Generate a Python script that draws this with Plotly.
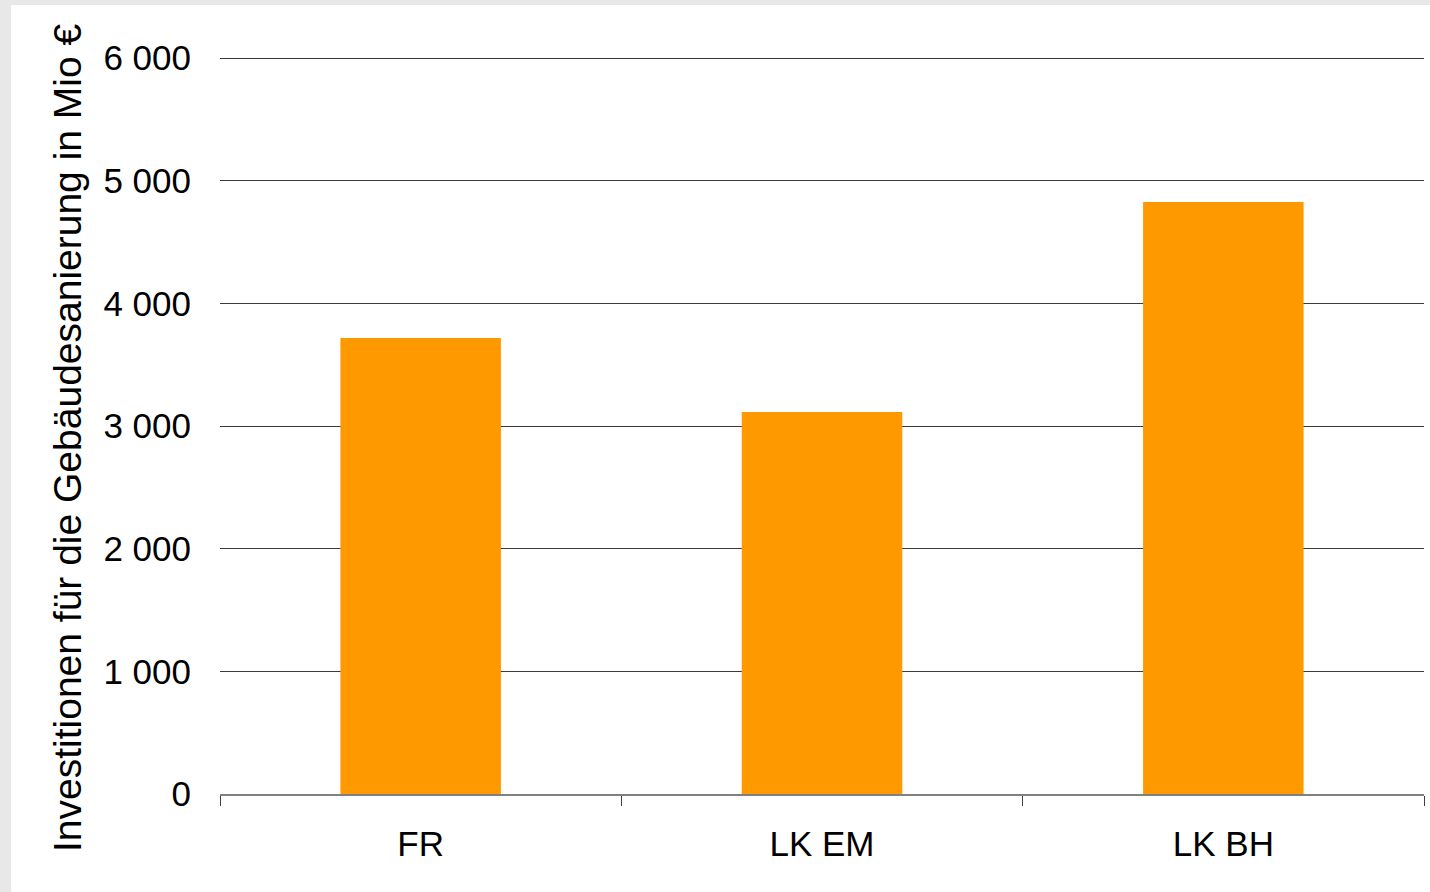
import plotly.graph_objects as go

categories = ["FR", "LK EM", "LK BH"]
values = [3717, 3114, 4826]
y_ticks = [0, 1000, 2000, 3000, 4000, 5000, 6000]
y_tick_labels = ["0", "1 000", "2 000", "3 000", "4 000", "5 000", "6 000"]
y_title = "Investitionen für die Gebäudesanierung in Mio €"

W, H = 1430, 892
L, R, T, B = 220, 6, 52, 98
pw, ph = W - L - R, H - T - B
y_top = 6000 * ph / 736.0

def px_x(px):
    return (px - L) / pw

def px_y(py):
    return (H - B - py) / ph

fig = go.Figure(go.Bar(x=categories, y=values, marker=dict(color="#FF9900", line=dict(width=0)),
                       width=0.4))

fig.update_layout(
    width=W, height=H,
    margin=dict(l=L, r=R, t=T, b=B),
    paper_bgcolor="#e8e8e8",
    plot_bgcolor="white",
    font=dict(family="Liberation Sans, Arial", size=35, color="black"),
    showlegend=False,
    shapes=[dict(type="rect", xref="paper", yref="paper", x0=px_x(11), x1=px_x(W + 5),
                 y0=px_y(H + 5), y1=px_y(5), fillcolor="white", line=dict(width=0), layer="below")],
    annotations=[dict(text=y_title, xref="paper", yref="paper", x=px_x(67), y=px_y(438),
                      textangle=-90, showarrow=False, font=dict(size=39),
                      xanchor="center", yanchor="middle")],
)
fig.update_yaxes(range=[0, y_top], tickvals=y_ticks, ticktext=y_tick_labels,
                 showgrid=True, gridcolor="#3a3a3a", gridwidth=1, zeroline=False,
                 showline=False, ticks="", ticklabelstandoff=28)
fig.update_xaxes(showline=True, linecolor="#808080", linewidth=2, ticks="outside",
                 tickson="boundaries", ticklen=10, tickcolor="#404040", tickwidth=1,
                 ticklabelstandoff=18, range=[-0.5, 2.5])

fig.write_html("out.html")
